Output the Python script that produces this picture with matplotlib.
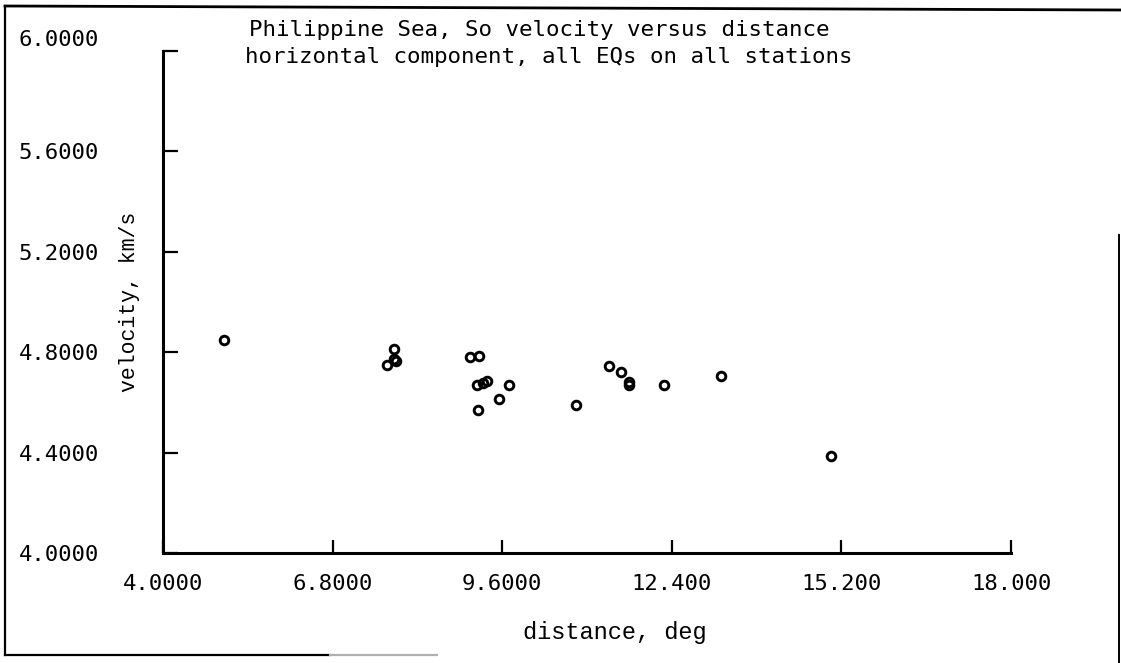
import matplotlib
matplotlib.use("Agg")
import matplotlib.pyplot as plt
from matplotlib.lines import Line2D
from matplotlib.transforms import ScaledTranslation

# So-wave velocity versus epicentral distance (horizontal component)
distance_deg = [5.00, 7.82, 7.81, 7.84, 7.69, 9.07, 9.21, 9.18, 9.28, 9.35,
                9.72, 9.55, 9.20, 10.82, 11.36, 11.56, 11.69, 11.69, 12.27,
                13.22, 15.03]
velocity_kms = [4.847, 4.811, 4.771, 4.763, 4.749, 4.782, 4.783, 4.669, 4.677,
                4.686, 4.671, 4.615, 4.571, 4.591, 4.745, 4.723, 4.680, 4.670,
                4.670, 4.706, 4.387]

x_ticks = [4.0, 6.8, 9.6, 12.4, 15.2, 18.0]
x_tick_labels = ["4.0000", "6.8000", "9.6000", "12.400", "15.200", "18.000"]
y_ticks = [4.0, 4.4, 4.8, 5.2, 5.6, 6.0]
y_tick_labels = ["4.0000", "4.4000", "4.8000", "5.2000", "5.6000", "6.0000"]

title_lines = ["Philippine Sea, So velocity versus distance",
               "horizontal component, all EQs on all stations"]

W, H = 1121, 663
fig = plt.figure(figsize=(W / 100, H / 100), dpi=100)
fig.patch.set_facecolor("white")

# axes box in pixel terms: x 163..1011, y 553..51 (from top)
left, right, bottom_px, top_px = 163, 1011, 553, 51
ax = fig.add_axes([left / W, (H - bottom_px) / H,
                   (right - left) / W, (bottom_px - top_px) / H])

ax.plot(distance_deg, velocity_kms, linestyle="none", marker="o",
        markersize=6.2, markerfacecolor="none", markeredgecolor="black",
        markeredgewidth=2.1, clip_on=False)

ax.set_xlim(4.0, 18.0)
ax.set_ylim(4.0, 6.0)

for side in ("top", "right"):
    ax.spines[side].set_visible(False)
for side in ("left", "bottom"):
    ax.spines[side].set_linewidth(2.2)
    ax.spines[side].set_capstyle("projecting")

tick_font = dict(family="DejaVu Sans Mono", size=16)
ax.set_xticks(x_ticks)
ax.set_xticklabels(x_tick_labels, **tick_font)
ax.set_yticks(y_ticks)
ax.set_yticklabels(y_tick_labels, **tick_font)
ax.tick_params(axis="x", direction="in", length=9.5, width=1.6, pad=15)
ax.tick_params(axis="y", direction="in", length=10.5, width=1.6, pad=46)
for lbl in ax.get_yticklabels():
    lbl.set_horizontalalignment("right")

# the top value label sits a little above its tick
top_label = ax.get_yticklabels()[-1]
top_label.set_transform(top_label.get_transform()
                        + ScaledTranslation(0, 9 / 72, fig.dpi_scale_trans))

ax.set_xlabel("distance, deg", family="Liberation Mono", fontsize=17)
ax.xaxis.set_label_coords((615 - left) / (right - left), -0.135)
ax.set_ylabel("velocity, km/s", family="Liberation Mono", fontsize=15.5)
ax.yaxis.set_label_coords(-0.027, 0.5)

# two-line caption inside the plotting area
fig.text(249 / W, 1 - 30 / H, title_lines[0], family="DejaVu Sans Mono",
         fontsize=16.2, ha="left", va="center")
fig.text(245 / W, 1 - 57 / H, title_lines[1], family="DejaVu Sans Mono",
         fontsize=16.2, ha="left", va="center")

# page frame around the figure
def frame_line(xs, ys, color="black", lw=1.6):
    fig.add_artist(Line2D([x / W for x in xs], [1 - y / H for y in ys],
                          color=color, linewidth=lw))

frame_line([5, 1121], [6, 10], lw=2.0)
frame_line([5, 5], [6, 655])
frame_line([5, 330], [655, 655])
frame_line([330, 437], [655, 655], color="#b0b0b0")
frame_line([1119, 1119], [235, 663], lw=1.4)

fig.savefig("out.png", dpi=100, facecolor="white")
